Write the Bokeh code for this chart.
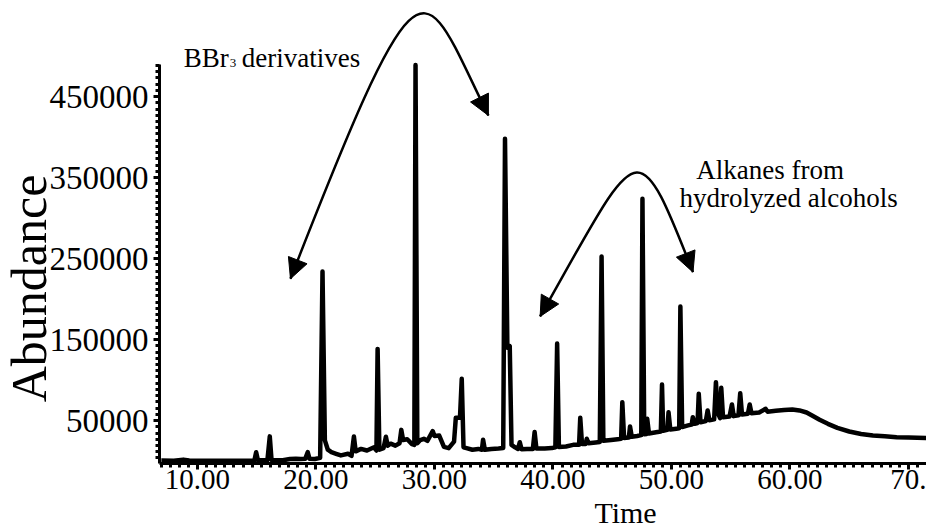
import numpy as np
from bokeh.plotting import figure
from bokeh.models import FixedTicker, Range1d, Label, Arrow, NormalHead
from bokeh.embed import file_html
from bokeh.resources import INLINE

# ---- chromatogram trace (retention time, abundance) ----
ret_time = [
    6.95, 8.0, 8.8, 9.3, 10.5, 12.0, 13.5, 14.8, 14.95, 15.1, 15.9, 16.1, 16.25,
    17.2, 17.8, 18.3, 18.7, 19.1, 19.3, 19.45, 19.9, 20.35, 20.55, 20.75, 21.0,
    21.3, 21.7, 22.1, 22.7, 23.0, 23.2, 23.35, 23.8, 24.3, 24.9, 25.1, 25.2,
    25.35, 25.7, 25.9, 26.05, 26.3, 26.7, 27.05, 27.2, 27.35, 27.7, 28.1, 28.3,
    28.4, 28.55, 28.8, 29.1, 29.4, 29.85, 30.0, 30.4, 30.8, 31.2, 31.65, 31.8,
    32.15, 32.3, 32.45, 32.7, 33.2, 33.7, 34.0, 34.1, 34.25, 34.8, 35.4, 35.8,
    35.95, 36.15, 36.35, 36.5, 36.8, 37.05, 37.2, 37.35, 37.8, 38.3, 38.45,
    38.6, 39.3, 39.9, 40.2, 40.35, 40.5, 41.1, 41.7, 42.2, 42.3, 42.45, 42.75,
    42.85, 43.0, 43.6, 43.95, 44.1, 44.25, 44.9, 45.45, 45.75, 45.85, 46.0,
    46.4, 46.5, 46.65, 47.1, 47.45, 47.55, 47.7, 47.9, 47.95, 48.1, 48.7, 49.1,
    49.2, 49.3, 49.65, 49.75, 49.9, 50.4, 50.65, 50.75, 50.9, 51.4, 51.7, 51.8,
    51.95, 52.2, 52.3, 52.45, 52.9, 53.05, 53.2, 53.6, 53.75, 53.9, 54.1, 54.2,
    54.35, 54.9, 55.1, 55.25, 55.65, 55.8, 55.95, 56.45, 56.6, 56.75, 57.4,
    57.95, 58.1, 58.8, 59.5, 60.2, 60.8, 61.4, 61.9, 62.5, 63.2, 64.0, 65.0,
    66.0, 67.0, 68.0, 69.0, 70.0, 71.5,
]
abundance = [
    600, 500, 1800, 700, 300, 300, 500, 700, 11000, 1000, 1000, 30500, 1200,
    1000, 2500, 3000, 2500, 3000, 11000, 3000, 2500, 4000, 234000, 25500, 14000,
    11000, 9000, 7000, 9000, 6500, 30400, 12000, 15000, 13000, 17000, 13000, 138500,
    14000, 16000, 30000, 19000, 21500, 19000, 22000, 38500, 26000, 27000, 21000, 20000,
    489000, 22000, 26000, 27500, 25000, 37000, 31000, 31500, 17500, 16000, 24000, 53500,
    53500, 101600, 17000, 16000, 14000, 15000, 14000, 26300, 14000, 15000, 15500, 16000,
    398000, 140000, 141900, 20000, 17000, 15000, 23300, 14500, 15000, 15000, 36000,
    15500, 15500, 16000, 17000, 145000, 17500, 18000, 20000, 20000, 53500, 21000, 21000,
    27500, 22000, 23000, 23500, 252600, 25000, 26000, 27000, 27500, 72700, 28500,
    29000, 42700, 30000, 31000, 32000, 323800, 33000, 33500, 52200, 34000, 35500, 36500,
    94600, 37500, 38500, 60400, 39000, 40000, 40500, 190900, 42000, 44000, 45000, 54200,
    46000, 47000, 83100, 48000, 49500, 62500, 50500, 51500, 97400, 60000, 53000, 90500,
    54000, 55000, 69900, 55500, 56500, 83800, 57500, 58500, 69900, 59000, 60000,
    64500, 61000, 62000, 63000, 63700, 62500, 60000, 56000, 51000, 46000, 41000, 36500,
    33500, 31500, 30500, 29500, 29000, 28500,
]

# ---- axes ----
x_ticks = [10, 20, 30, 40, 50, 60, 70]
x_tick_labels = ["10.00", "20.00", "30.00", "40.00", "50.00", "60.00", "70."]
y_ticks = [50000, 150000, 250000, 350000, 450000]
y_tick_labels = ["50000", "150000", "250000", "350000", "450000"]
x_axis_title = "Time"
y_axis_title = "Abundance"

# ---- annotations ----
bbr_text = ["BBr", "3", "derivatives"]
alk_text = ["Alkanes from", "hydrolyzed alcohols"]

FONT = "Liberation Serif"

X_START, X_END = -6.624, 71.52
Y_START, Y_END = -84481, 568605
AX_X = 6.793      # where the vertical axis sits (data units)
AX_Y = -3000      # where the horizontal axis sits (data units)

p = figure(width=926, height=529, output_backend="svg", toolbar_location=None,
           x_range=Range1d(X_START, X_END), y_range=Range1d(Y_START, Y_END),
           min_border=0, background_fill_color="white")
p.outline_line_color = None
p.xgrid.visible = False
p.ygrid.visible = False

p.line(ret_time, abundance, line_color="black", line_width=4.5, line_join="round")

# x axis
x_step = 10 / 13
p.xaxis.ticker = FixedTicker(ticks=x_ticks,
                             minor_ticks=list(np.arange(10 - 4 * x_step, 71.6, x_step)))
p.xaxis.major_label_overrides = dict(zip(x_ticks, x_tick_labels))
p.xaxis.fixed_location = AX_Y
p.xaxis.bounds = (AX_X, X_END)
# y axis
y_step = 100000 / 13
p.yaxis.ticker = FixedTicker(ticks=y_ticks,
                             minor_ticks=list(np.arange(50000 - 6 * y_step, 491000, y_step)))
p.yaxis.major_label_overrides = dict(zip(y_ticks, y_tick_labels))
p.yaxis.fixed_location = AX_X
p.yaxis.bounds = (AX_Y, 490000)

for ax in (p.xaxis, p.yaxis):
    ax.axis_line_color = "black"
    ax.axis_line_width = 3
    ax.major_tick_line_color = "black"
    ax.minor_tick_line_color = "black"
    ax.major_tick_line_width = 3
    ax.minor_tick_line_width = 3
    ax.major_tick_in = 0
    ax.major_tick_out = 6
    ax.minor_tick_in = 0
    ax.minor_tick_out = 4
    ax.major_label_text_font = FONT
    ax.major_label_text_color = "black"
p.xaxis.major_label_text_font_size = "29px"
p.yaxis.major_label_text_font_size = "33px"
p.xaxis.major_label_standoff = 0
p.yaxis.major_label_standoff = 5


def add_text(x, y, text, size, angle=0.0, align="left", x_offset=0):
    p.add_layout(Label(x=x, y=y, text=text, angle=angle, x_offset=x_offset,
                       text_font=FONT, text_font_size=size, text_color="black",
                       text_align=align, text_baseline="middle"))


# axis titles
add_text(-4.219, 213049, y_axis_title, "50px", angle=np.pi / 2, align="center")
add_text(46.12, -63247, x_axis_title, "30px", align="center")

# annotation texts
add_text(8.84, 497247, bbr_text[0], "27px")
add_text(8.84, 491321, bbr_text[1], "13px", x_offset=46)
add_text(8.84, 497247, bbr_text[2], "27px", x_offset=58)
add_text(52.088, 359840, alk_text[0], "27px")
add_text(50.68, 324778, alk_text[1], "27px")

# curved double arrows
p.bezier(x0=[17.846, 38.915], y0=[225070, 178520],
         x1=[34.548, 51.814], y1=[426680, 233220],
         cx0=[29.304, 47.283], cy0=[655080, 394580],
         cx1=[28.890, 46.951], cy1=[593350, 414700],
         line_color="black", line_width=2.5)

arrow_tails_x = [18.459, 33.803, 39.743, 51.201]
arrow_tails_y = [248030, 448650, 199880, 256180]
arrow_tips_x = [17.846, 34.548, 38.915, 51.814]
arrow_tips_y = [225070, 426680, 178520, 233220]
for xs, ys, xe, ye in zip(arrow_tails_x, arrow_tails_y, arrow_tips_x, arrow_tips_y):
    p.add_layout(Arrow(end=NormalHead(size=20, fill_color="black", line_color="black"),
                       x_start=xs, y_start=ys, x_end=xe, y_end=ye,
                       line_color="black", line_width=2.5))

open("out.html", "w").write(file_html(p, INLINE))
